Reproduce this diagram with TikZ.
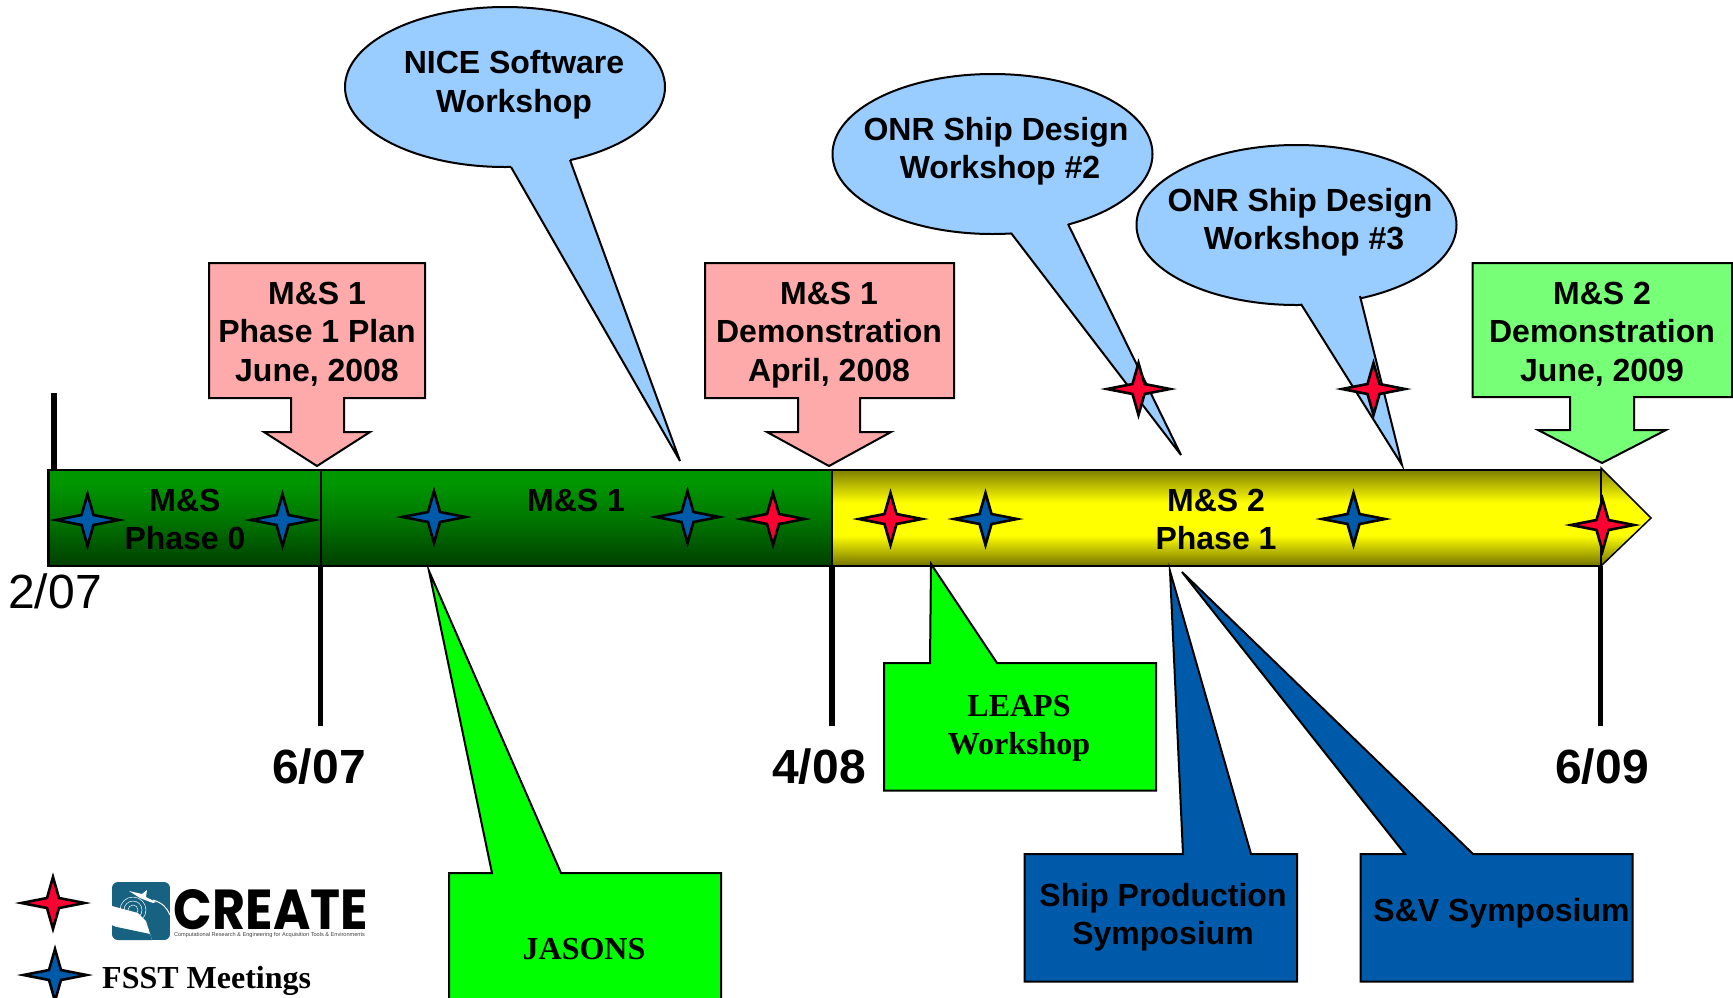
\documentclass[tikz,border=0pt]{standalone}
\usepackage{fontspec}
\setmainfont{Liberation Sans}
\newfontfamily\timesf{Liberation Serif}
\newfontfamily\logof{Poppins}
\usetikzlibrary{shapes.geometric}
\definecolor{skyb}{RGB}{153,204,255}
\definecolor{pinkb}{RGB}{255,170,170}
\definecolor{lgreen}{RGB}{119,255,119}
\definecolor{bgreen}{RGB}{0,255,0}
\definecolor{dblue}{RGB}{0,90,170}
\definecolor{sred}{RGB}{255,0,51}
\definecolor{teal1}{RGB}{22,98,128}
\pgfdeclareverticalshading{gbar}{100bp}{rgb(0bp)=(0,0.25,0); rgb(25bp)=(0,0.25,0); rgb(50bp)=(0,0.47,0); rgb(68bp)=(0,0.59,0); rgb(100bp)=(0,0.59,0)}
\pgfdeclareverticalshading{ybar}{100bp}{rgb(0bp)=(0.45,0.45,0); rgb(25bp)=(0.45,0.45,0); rgb(41bp)=(1,1,0); rgb(58bp)=(1,1,0); rgb(75bp)=(0.5,0.5,0); rgb(100bp)=(0.5,0.5,0)}
\tikzset{
 lbl/.style={font=\fontsize{32}{38.6}\selectfont\bfseries,align=center,inner sep=0pt,text=black},
 lblt/.style={font=\fontsize{32}{37.6}\selectfont\bfseries,align=center,inner sep=0pt,text=black},
 tlbl/.style={font=\fontsize{32}{38.2}\selectfont\timesf\bfseries,align=center,inner sep=0pt,text=black},
 datelbl/.style={font=\fontsize{48}{50}\selectfont\bfseries,inner sep=0pt},
 shape box/.style={draw=black,line width=2pt,line join=miter},
 tick/.style={draw=black,line width=5.5pt},
 pics/fourstar/.style={code={
   \path[draw=black,fill=#1,line width=2.6pt,miter limit=12]
     (-31.5,0)--(-6,-5)--(0,-26)--(6,-5)--(31.5,0)--(6,5)--(0,26)--(-6,5)--cycle;
 }}
}
\newcommand{\balloon}[6]{% name cx cy base1 base2 tip
  \node[draw=black,line width=2pt,fill=skyb,ellipse,minimum width=320pt,minimum height=160pt,inner sep=0pt] (#1) at (#2,#3) {};
  \coordinate (#1a) at (#4); \coordinate (#1b) at (#5); \coordinate (#1t) at (#6);
  \fill[skyb] (#1a) -- (#1t) -- (#1b) -- ([yshift=5pt]#1b) -- ([yshift=5pt]#1a) -- cycle;
  \draw[line width=2pt,line join=miter] (#1a) -- (#1t) -- (#1b);
}
\begin{document}
\begin{tikzpicture}[x=1pt,y=-1pt]
\useasboundingbox (0,0) rectangle (1733,997);
\clip (0,0) rectangle (1733,997);
% left tick and lower ticks
\coordinate (t0a) at (54,393); \coordinate (t0b) at (54,470);
\coordinate (t1a) at (320.5,566); \coordinate (t1b) at (320.5,726);
\coordinate (t2a) at (832,566);  \coordinate (t2b) at (832,726);
\coordinate (t3a) at (1600.5,566); \coordinate (t3b) at (1600.5,726);
\draw[tick] (t0a)--(t0b);
\draw[tick] (t1a)--(t1b);
\draw[tick] (t2a)--(t2b);
\draw[tick] (t3a)--(t3b);
% balloons
\balloon{nice}{505}{87}{511,167}{570,160}{680,461}
\balloon{onra}{992.5}{154}{1011,233}{1068,224}{1181,455}
\balloon{onrb}{1296.5}{225}{1301,304}{1360,296}{1402,465}
% timeline
\shade[shading=gbar] (48.5,470) rectangle (832,566);
\shade[shading=ybar] (832,470) rectangle (1601,566);
\shade[shading=ybar,draw=black,line width=1.5pt] (1601,468) -- (1651,518) -- (1601,566) -- cycle;
\draw[line width=2.5pt] (48.5,470) rectangle (1601,566);
\draw[line width=2pt] (320.5,470)--(320.5,566);
\draw[line width=2.5pt] (832,470)--(832,566);
% arrow callouts
\path[shape box,fill=pinkb] (209,263)--(425,263)--(425,398)--(344,398)--(344,432)--(370,432)--(317,466)--(264,432)--(291,432)--(291,398)--(209,398)--cycle;
\path[shape box,fill=pinkb] (705,263)--(954,263)--(954,398)--(860,398)--(860,432)--(891,432)--(829,466)--(767,432)--(798,432)--(798,398)--(705,398)--cycle;
\path[shape box,fill=lgreen] (1472.5,263)--(1732,263)--(1732,397)--(1634,397)--(1634,430)--(1666,430)--(1602,463)--(1538,430)--(1570,430)--(1570,397)--(1472.5,397)--cycle;
% lower callouts
\path[shape box,fill=bgreen] (884,663)--(930,663)--(931,564)--(997,663)--(1156,663)--(1156,790.5)--(884,790.5)--cycle;
\path[shape box,fill=bgreen] (449,873)--(492,873)--(429,571)--(561,873)--(721,873)--(721,1010)--(449,1010)--cycle;
\path[shape box,fill=dblue] (1024.5,854)--(1183,854)--(1170,571)--(1251,854)--(1297,854)--(1297,981.5)--(1024.5,981.5)--cycle;
\path[shape box,fill=dblue] (1360.5,854)--(1405,854)--(1182,572)--(1473,854)--(1632.5,854)--(1632.5,981.5)--(1360.5,981.5)--cycle;
% labels
\node[lbl] (lnice) at (514,85) {NICE Software\\Workshop};
\node[lblt] (lonra) at (998,151) {ONR Ship Design\hspace*{4pt}\\\hspace*{4pt}Workshop \#2};
\node[lblt] (lonrb) at (1302,222) {ONR Ship Design\hspace*{4pt}\\\hspace*{4pt}Workshop \#3};
\node[lbl] (lb1) at (317,334) {M\&S 1\\Phase 1 Plan\\June, 2008};
\node[lbl] (lb2) at (829,335) {M\&S 1\\Demonstration\\April, 2008};
\node[lbl] (lb3) at (1602,334) {M\&S 2\\Demonstration\\June, 2009};
\node[lbl] (p0) at (185,519.5) {M\&S\\Phase 0};
\node[lbl] (m1) at (576,500) {M\&S 1};
\node[lbl] (m2) at (1216,519.5) {M\&S 2\\Phase 1};
\node[tlbl] (leaps) at (1019,728) {LEAPS\\Workshop};
\node[tlbl] (jas) at (584,949) {JASONS};
\node[lblt] (ship) at (1163,917) {Ship Production\\Symposium};
\node[lbl] (sv) at (1501.5,913.5) {S\&V Symposium};
\node[font=\fontsize{48}{50}\selectfont,inner sep=0pt] (d0) at (55,591) {2/07};
\node[datelbl] (d1) at (319,767) {6/07};
\node[datelbl] (d2) at (819,767) {4/08};
\node[datelbl] (d3) at (1602,767) {6/09};
% stars
\foreach \p in {(87.5,520),(282.5,520),(434,517),(687.5,517),(985.5,519),(1353.5,519),(55,975)}
  \pic at \p {fourstar=dblue};
\foreach \p in {(773,519),(890.5,519),(1138.5,389),(1373.5,389),(1602.5,525),(53,903)}
  \pic at \p {fourstar=sred};
% logo
\begin{scope}
 \clip[rounded corners=6pt] (112,882) rectangle (170,940);
 \fill[teal1] (112,882) rectangle (170,940);
 \fill[white] (112,906) -- (138,913) -- (146,921) -- (152,940) -- (125,932) -- (112,925) -- cycle;
 \fill[teal1] (112,926) -- (150,934) -- (152,940) -- (118,940) -- (112,935) -- cycle;
 \fill[white] (129,891) -- (142,894) -- (147,890) -- (146,897) -- (156,902) -- (153,903) -- (145,900) -- (140,898) -- cycle;
 \draw[white,line width=1pt] (153,900) .. controls (163,903) and (167,908) .. (170,915);
 \draw[white,line width=.5pt] (133,910) circle (5) (133,910) circle (9) (133,910) circle (13);
\end{scope}
\node[font=\logof\bfseries,inner sep=0pt,anchor=center] (logot) at (271,909.5) {\resizebox{194pt}{40pt}{CREATE}};
\node[inner sep=0pt,text=black!75] (logos) at (269.5,935) {\resizebox{191pt}{!}{\fontsize{6}{6}\selectfont Computational Research \& Engineering for Acquisition Tools \& Environments}};
\node[tlbl,anchor=west] (fsst) at (102,981) {FSST Meetings};
\end{tikzpicture}
\end{document}
